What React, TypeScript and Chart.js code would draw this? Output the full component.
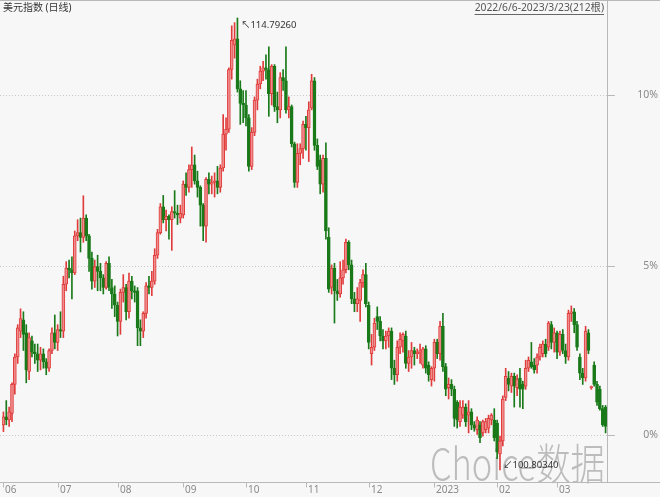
import { useEffect, useRef } from 'react';
import { Chart, registerables } from 'chart.js';

Chart.register(...registerables);

const TITLE = '美元指数 (日线)';
const RANGE_TEXT = '2022/6/6-2023/3/23(212根)';
const WATERMARK = 'Choice数据';

const MONTH_LABELS = ['06', '07', '08', '09', '10', '11', '12', '2023', '02', '03'];
const MONTH_BAR_COUNTS = [19, 21, 23, 22, 21, 22, 23, 22, 21, 18];

const Y_TICK_LABELS = ['0%', '5%', '10%'];
const Y_TICK_VALUES = [101.89, 107.12, 112.41];
const Y_MIN = 100.43;
const Y_MAX = 115.35;

const OPEN = [
  102.20, 102.45, 102.35, 102.55, 103.45, 104.30, 105.10, 105.45, 105.05, 103.85, 104.80, 104.45, 104.40, 104.20, 104.40, 104.15, 103.95, 104.50, 105.05,
  104.75, 105.15, 105.10, 106.55, 107.05, 107.00, 106.90, 108.05, 108.15, 108.00, 108.60, 108.05, 107.35, 106.65, 107.10, 106.95, 106.75, 106.45, 107.20, 106.45, 106.25,
  105.90, 105.40, 106.30, 106.45, 105.70, 106.65, 106.35, 106.35, 105.20, 105.10, 105.65, 106.50, 106.45, 106.65, 107.45, 108.15, 108.95, 108.55, 108.65, 108.55, 108.80, 108.75, 108.60,
  108.70, 109.65, 109.55, 110.10, 110.25, 109.75, 109.55, 109.00, 108.35, 109.80, 109.65, 109.70, 109.75, 109.55, 110.15, 111.20, 111.35, 113.20, 113.95, 114.15, 112.60, 112.15,
  112.10, 111.70, 110.20, 111.25, 112.25, 112.75, 113.15, 113.25, 113.20, 112.45, 113.30, 112.05, 111.95, 112.95, 112.85, 111.95, 112.05, 110.90, 109.70, 110.60, 110.75,
  111.50, 111.40, 112.00, 112.85, 110.85, 110.40, 109.65, 110.45, 108.00, 106.45, 107.05, 106.35, 106.25, 106.75, 107.00, 107.85, 107.15, 106.10, 105.95, 106.05, 106.60, 106.85,
  105.90, 104.40, 104.60, 105.55, 105.40, 104.95, 104.80, 104.95, 105.10, 103.95, 103.75, 104.60, 104.80, 104.95, 104.10, 104.30, 104.50, 104.40, 104.45, 104.05, 104.55, 104.05, 103.60,
  103.95, 104.75, 104.40, 105.25, 104.00, 103.35, 103.45, 103.30, 102.90, 102.30, 102.50, 102.75, 102.50, 102.60, 102.20, 102.05, 102.20, 101.95, 102.05, 102.10, 102.35, 102.35,
  102.25, 101.30, 101.70, 103.05, 103.65, 103.40, 103.70, 103.35, 103.65, 103.45, 103.40, 103.95, 104.15, 104.05, 104.05, 104.30, 104.40, 104.70, 104.60, 105.30, 104.75,
  105.05, 104.45, 105.00, 104.50, 104.30, 105.65, 105.70, 105.30, 104.30, 103.80, 103.65, 105.05, 103.35, 104.05, 103.45, 103.30, 102.70, 102.75,
];

const HIGH = [
  102.60, 102.95, 102.75, 103.50, 104.40, 105.30, 105.79, 105.70, 105.30, 105.05, 104.95, 104.70, 104.70, 104.60, 104.55, 104.25, 104.55, 105.20, 105.60,
  105.30, 105.70, 106.80, 107.25, 107.30, 107.40, 108.20, 108.55, 108.60, 109.29, 108.70, 108.10, 107.55, 107.30, 107.45, 107.20, 106.85, 107.25, 107.40, 106.70, 106.50,
  106.00, 106.40, 106.85, 106.55, 106.90, 106.80, 106.50, 106.45, 105.45, 105.70, 106.60, 106.80, 106.95, 107.65, 108.25, 109.05, 109.30, 108.85, 108.70, 108.95, 109.45, 109.00, 109.00,
  109.75, 110.00, 110.25, 110.80, 110.55, 110.05, 109.60, 109.05, 109.85, 110.00, 109.90, 110.00, 110.20, 110.25, 111.80, 111.70, 113.25, 114.55, 114.65, 114.7926, 112.85, 112.55,
  112.55, 111.80, 111.40, 112.35, 112.90, 113.30, 113.45, 113.65, 113.90, 113.35, 113.35, 112.50, 113.10, 113.20, 113.90, 112.35, 112.10, 110.95, 110.90, 110.90, 111.60,
  111.75, 112.20, 113.05, 112.95, 111.05, 110.55, 110.55, 110.93, 108.30, 107.15, 107.20, 106.70, 107.25, 107.30, 107.95, 107.90, 107.30, 106.30, 106.45, 106.70, 107.00, 107.20,
  106.00, 105.00, 105.50, 105.85, 105.55, 105.15, 105.10, 105.20, 105.20, 104.20, 104.80, 105.05, 105.05, 105.10, 104.50, 104.75, 104.60, 104.55, 104.70, 104.60, 104.65, 104.15, 104.00,
  104.85, 104.85, 105.40, 105.65, 104.10, 103.65, 103.60, 103.40, 102.95, 102.95, 102.95, 102.85, 102.95, 102.70, 102.30, 102.45, 102.30, 102.35, 102.40, 102.50, 102.55, 102.70,
  102.35, 101.85, 103.10, 103.95, 103.85, 103.80, 103.80, 103.75, 103.95, 103.55, 104.20, 104.30, 104.75, 104.25, 104.40, 104.70, 104.80, 104.85, 105.40, 105.40, 105.20,
  105.10, 105.10, 105.15, 104.70, 105.75, 105.88, 105.80, 105.40, 104.40, 103.95, 105.25, 105.15, 103.40, 104.15, 103.55, 103.40, 102.80, 102.80,
];

const LOW = [
  101.99, 102.20, 102.15, 102.30, 103.15, 104.10, 104.90, 104.50, 103.50, 103.60, 104.30, 104.10, 103.85, 103.90, 103.95, 103.75, 103.85, 104.40, 104.55,
  104.50, 104.90, 104.90, 106.35, 106.75, 106.10, 106.85, 107.90, 107.55, 107.85, 107.90, 106.95, 106.40, 106.45, 106.35, 106.35, 106.25, 106.40, 106.35, 105.80, 105.55,
  104.95, 105.00, 106.00, 105.45, 105.50, 106.10, 106.00, 104.65, 104.65, 104.90, 105.50, 106.25, 106.20, 106.55, 107.35, 108.10, 108.45, 108.20, 107.95, 107.60, 108.60, 108.40, 108.45,
  108.60, 109.30, 109.40, 109.55, 109.65, 109.25, 108.35, 107.90, 107.85, 109.35, 109.35, 109.25, 109.35, 109.40, 110.05, 110.70, 111.25, 112.90, 113.55, 112.50, 111.50, 111.55,
  111.45, 110.05, 110.10, 111.15, 111.95, 112.60, 112.85, 112.90, 111.75, 112.10, 111.90, 111.55, 111.70, 112.55, 111.85, 111.70, 110.80, 109.55, 109.55, 110.25, 110.45,
  110.70, 110.35, 111.95, 110.70, 110.10, 109.35, 109.40, 107.95, 106.30, 106.25, 105.35, 106.05, 106.15, 106.55, 106.90, 107.00, 105.95, 105.70, 105.70, 105.40, 106.45, 105.85,
  104.55, 104.05, 104.50, 105.15, 104.80, 104.55, 104.55, 104.60, 103.60, 103.45, 103.55, 104.40, 104.45, 103.95, 103.85, 103.95, 104.05, 104.25, 104.10, 103.95, 103.80, 103.55, 103.40,
  103.55, 104.25, 104.20, 103.85, 103.10, 103.00, 103.10, 102.15, 102.10, 102.15, 102.40, 102.15, 101.95, 102.05, 102.00, 101.90, 101.65, 101.85, 101.95, 101.95, 102.20, 101.70,
  101.15, 100.8034, 101.55, 102.95, 103.25, 103.20, 102.75, 103.10, 102.75, 102.70, 103.30, 103.85, 103.95, 103.80, 103.80, 104.20, 104.30, 104.30, 104.50, 104.55, 104.45,
  104.25, 104.35, 104.40, 104.10, 104.20, 105.40, 105.05, 104.50, 103.60, 103.45, 103.55, 104.40, 103.30, 103.40, 102.80, 102.65, 102.15, 101.95,
];

const CLOSE = [
  102.45, 102.35, 102.60, 103.45, 104.30, 105.20, 105.49, 105.00, 103.90, 104.90, 104.45, 104.40, 104.20, 104.40, 104.15, 103.95, 104.50, 105.05, 104.75,
  105.15, 105.10, 106.55, 107.05, 107.00, 106.90, 108.05, 108.15, 108.00, 108.60, 108.05, 107.35, 106.65, 107.10, 106.95, 106.75, 106.45, 107.20, 106.45, 106.25, 105.90,
  105.40, 106.30, 106.45, 105.70, 106.65, 106.35, 106.30, 105.20, 105.10, 105.65, 106.50, 106.45, 106.65, 107.45, 108.15, 108.95, 108.55, 108.65, 108.55, 108.80, 108.75, 108.70, 108.75,
  109.65, 109.55, 110.10, 110.25, 109.75, 109.55, 109.00, 108.35, 109.80, 109.65, 109.70, 109.75, 109.55, 110.15, 111.20, 111.35, 113.20, 114.10, 114.15, 112.60, 112.15, 112.10,
  111.70, 110.20, 111.25, 112.25, 112.75, 113.15, 113.25, 113.20, 112.45, 113.30, 112.05, 111.95, 112.95, 112.85, 111.95, 112.05, 110.90, 109.70, 110.60, 110.75, 111.50,
  111.40, 111.95, 112.85, 110.85, 110.20, 109.65, 110.45, 108.20, 106.40, 107.05, 106.35, 106.25, 106.75, 107.00, 107.85, 107.15, 106.10, 105.95, 106.10, 106.60, 106.85, 105.95,
  104.75, 104.60, 105.35, 105.40, 104.95, 104.80, 104.95, 105.10, 103.95, 103.75, 104.60, 104.85, 105.00, 104.10, 104.30, 104.50, 104.40, 104.45, 104.50, 104.55, 103.95, 103.75, 103.95,
  104.75, 104.40, 105.25, 104.00, 103.30, 103.45, 103.30, 102.40, 102.35, 102.75, 102.75, 102.30, 102.60, 102.20, 102.10, 102.35, 101.80, 102.30, 102.30, 102.40, 102.50, 101.80,
  101.35, 101.70, 103.00, 103.70, 103.45, 103.70, 103.40, 103.60, 103.30, 103.30, 103.95, 104.20, 104.00, 103.90, 104.30, 104.60, 104.70, 104.40, 105.35, 104.75, 105.05,
  104.45, 105.00, 104.50, 104.30, 105.65, 105.70, 105.30, 104.60, 103.80, 103.65, 105.10, 104.50, 103.38, 103.45, 102.90, 102.70, 102.20, 102.15,
];

const RED_LINE = '#e03c3c';
const RED_FILL = '#f08c8c';
const GREEN = '#1a7a1a';
const AXIS = '#b9b9b9';
const FONT = '"Noto Sans", "Noto Sans CJK SC", "DejaVu Sans", sans-serif';

export default function App() {
  const ref = useRef<HTMLCanvasElement>(null);

  useEffect(() => {
    const labels: string[] = [];
    const monthStarts: number[] = [];
    MONTH_BAR_COUNTS.forEach((n, m) => {
      monthStarts.push(labels.length);
      for (let k = 0; k < n; k++) labels.push(MONTH_LABELS[m] + '-' + (k + 1));
    });
    const up = CLOSE.map((c, i) => c >= OPEN[i]);

    const decor = {
      id: 'decor',
      beforeDraw(chart: any) {
        const { ctx, width, height } = chart;
        ctx.save();
        ctx.fillStyle = '#f7f7f7';
        ctx.fillRect(0, 0, width, height);
        ctx.restore();
      },
      beforeDatasetsDraw(chart: any) {
        const { ctx, chartArea, scales } = chart;
        const y = scales.y;
        ctx.save();
        ctx.strokeStyle = '#c9c9c9';
        ctx.lineWidth = 1;
        ctx.setLineDash([1, 2]);
        Y_TICK_VALUES.forEach((v) => {
          const py = Math.round(y.getPixelForValue(v)) + 0.5;
          ctx.beginPath();
          ctx.moveTo(0, py);
          ctx.lineTo(chartArea.right, py);
          ctx.stroke();
        });
        ctx.setLineDash([]);
        // watermark
        ctx.font = '300 43px "Noto Sans CJK SC", sans-serif';
        ctx.fillStyle = 'rgba(165,165,165,0.72)';
        ctx.textBaseline = 'alphabetic';
        ctx.textAlign = 'left';
        const w = ctx.measureText(WATERMARK).width;
        ctx.translate(430, 480);
        ctx.scale(175 / w, 1);
        ctx.fillText(WATERMARK, 0, 0);
        ctx.restore();
      },
      afterDraw(chart: any) {
        const { ctx, chartArea, scales, width } = chart;
        const x = scales.x;
        const y = scales.y;
        ctx.save();
        ctx.strokeStyle = AXIS;
        ctx.lineWidth = 1;
        ctx.beginPath();
        ctx.moveTo(0, 0.5);
        ctx.lineTo(width, 0.5);
        ctx.stroke();
        const by = Math.round(chartArea.bottom) + 0.5;
        ctx.beginPath();
        ctx.moveTo(0, by);
        ctx.lineTo(width, by);
        ctx.stroke();
        const rx = Math.round(chartArea.right);
        ctx.fillStyle = '#8a8a8a';
        ctx.font = '10.5px ' + FONT;
        ctx.textAlign = 'right';
        ctx.textBaseline = 'middle';
        Y_TICK_VALUES.forEach((v, i) => {
          const py = Math.round(y.getPixelForValue(v)) + 0.5;
          ctx.beginPath();
          ctx.moveTo(rx, py);
          ctx.lineTo(rx + 8, py);
          ctx.stroke();
          ctx.fillText(Y_TICK_LABELS[i], 658, py);
        });
        ctx.font = '10px ' + FONT;
        ctx.textAlign = 'left';
        monthStarts.forEach((idx, m) => {
          const px = Math.round(x.getPixelForValue(idx)) + 0.5;
          ctx.beginPath();
          ctx.moveTo(px, by);
          ctx.lineTo(px, by + 5);
          ctx.stroke();
          ctx.fillText(MONTH_LABELS[m], px + 1.5, by + 7.5);
        });
        ctx.fillStyle = '#333333';
        ctx.font = '10px ' + FONT;
        ctx.textAlign = 'left';
        ctx.fillText(TITLE, 3, 8);
        ctx.fillStyle = '#555555';
        ctx.font = '10.3px ' + FONT;
        ctx.textAlign = 'right';
        ctx.fillText(RANGE_TEXT, 604, 8);
        const tw = ctx.measureText(RANGE_TEXT).width;
        ctx.strokeStyle = '#666666';
        ctx.beginPath();
        ctx.moveTo(604 - tw, 14.5);
        ctx.lineTo(604, 14.5);
        ctx.stroke();
        const hi = Math.max(...HIGH);
        const hiIdx = HIGH.indexOf(hi);
        const lo = Math.min(...LOW);
        const loIdx = LOW.indexOf(lo);
        ctx.fillStyle = '#333333';
        ctx.font = '9.5px ' + FONT;
        ctx.textAlign = 'left';
        ctx.fillText('↖' + hi.toFixed(5), x.getPixelForValue(hiIdx) + 3.5, y.getPixelForValue(hi) + 7.5);
        ctx.fillText('↙' + lo.toFixed(5), x.getPixelForValue(loIdx) + 3, y.getPixelForValue(lo) - 5);
        ctx.restore();
      },
    };

    const chart = new Chart(ref.current as HTMLCanvasElement, {
      type: 'bar',
      data: {
        labels,
        datasets: [
          {
            label: 'body',
            data: OPEN.map((o, i) => [Math.min(o, CLOSE[i]), Math.max(o, CLOSE[i])]) as any,
            backgroundColor: up.map((u) => (u ? RED_FILL : GREEN)),
            borderColor: up.map((u) => (u ? RED_LINE : GREEN)),
            borderWidth: 1,
            borderSkipped: false,
            barThickness: 3,
            minBarLength: 1,
            grouped: false,
            order: 1,
          },
          {
            label: 'wick',
            data: LOW.map((l, i) => [l, HIGH[i]]) as any,
            backgroundColor: up.map((u) => (u ? RED_LINE : GREEN)),
            borderWidth: 0,
            barThickness: 1,
            grouped: false,
            order: 2,
          },
        ],
      },
      options: {
        animation: false,
        responsive: true,
        maintainAspectRatio: false,
        layout: { padding: { left: 2, right: 0, top: 0, bottom: 0 } },
        plugins: { legend: { display: false }, tooltip: { enabled: false } },
        scales: {
          x: {
            type: 'category',
            offset: true,
            grid: { display: false },
            border: { display: false },
            ticks: { display: false },
            afterFit: (s: any) => {
              s.height = 15;
              s.paddingLeft = 0;
              s.paddingRight = 0;
            },
          },
          y: {
            position: 'right',
            min: Y_MIN,
            max: Y_MAX,
            grid: { display: false },
            border: { display: true, color: AXIS },
            ticks: { display: false },
            afterFit: (s: any) => {
              s.width = 53;
              s.paddingTop = 0;
              s.paddingBottom = 0;
            },
          },
        },
      },
      plugins: [decor],
    });
    return () => chart.destroy();
  }, []);

  return (
    <div style={{ position: 'fixed', left: 0, top: 0, width: 660, height: 497 }}>
      <canvas ref={ref} />
    </div>
  );
}
